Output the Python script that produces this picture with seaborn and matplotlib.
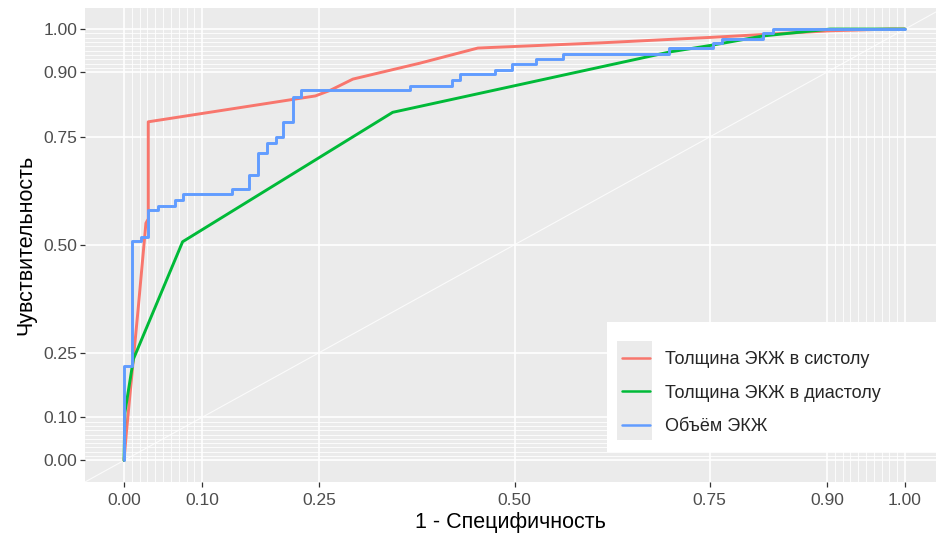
import numpy as np
import pandas as pd
import matplotlib
matplotlib.use("Agg")
import matplotlib.pyplot as plt
from matplotlib.patches import Rectangle
import seaborn as sns

# ---- data ----
labels = ["Толщина ЭКЖ в систолу", "Толщина ЭКЖ в диастолу", "Объём ЭКЖ"]

sys_fpr = [0, 0.003, 0.018, 0.028, 0.031, 0.031, 0.245, 0.264, 0.293, 0.379, 0.453, 0.61, 0.754, 0.904, 0.98, 1.0]
sys_tpr = [0, 0.065, 0.35, 0.55, 0.56, 0.785, 0.845, 0.858, 0.884, 0.921, 0.956, 0.968, 0.981, 0.996, 1.0, 1.0]

dia_fpr = [0, 0.001, 0.012, 0.075, 0.344, 0.61, 0.699, 0.754, 0.818, 0.904, 1.0]
dia_tpr = [0, 0.11, 0.235, 0.507, 0.807, 0.912, 0.947, 0.963, 0.984, 1.0, 1.0]

vol_fpr = [0, 0, 0.01, 0.01, 0.022, 0.022, 0.031, 0.031, 0.044, 0.044, 0.065, 0.065,
           0.075, 0.075, 0.138, 0.138, 0.16, 0.16, 0.172, 0.172, 0.183, 0.183, 0.195, 0.195,
           0.204, 0.204, 0.216, 0.216, 0.227, 0.227, 0.366, 0.366, 0.42, 0.42, 0.43, 0.43,
           0.475, 0.475, 0.497, 0.497, 0.528, 0.528, 0.562, 0.562, 0.698, 0.698, 0.754, 0.754,
           0.766, 0.766, 0.818, 0.818, 0.831, 0.831, 1.0]
vol_tpr = [0, 0.22, 0.22, 0.508, 0.508, 0.517, 0.517, 0.58, 0.58, 0.59, 0.59, 0.603,
           0.603, 0.617, 0.617, 0.629, 0.629, 0.661, 0.661, 0.712, 0.712, 0.735, 0.735, 0.749,
           0.749, 0.784, 0.784, 0.842, 0.842, 0.858, 0.858, 0.868, 0.868, 0.882, 0.882, 0.896,
           0.896, 0.905, 0.905, 0.919, 0.919, 0.93, 0.93, 0.942, 0.942, 0.956, 0.956, 0.967,
           0.967, 0.977, 0.977, 0.99, 0.99, 1.0, 1.0]

major_ticks = [0, 0.10, 0.25, 0.50, 0.75, 0.90, 1.00]
tick_labels = ["0.00", "0.10", "0.25", "0.50", "0.75", "0.90", "1.00"]
minor_ticks = [round(v, 2) for v in list(np.arange(0, 0.101, 0.01)) + list(np.arange(0.9, 1.001, 0.01))]

colors = ["#F8766D", "#00BA38", "#619CFF"]

df = pd.concat([
    pd.DataFrame({"fpr": sys_fpr, "tpr": sys_tpr, "curve": labels[0]}),
    pd.DataFrame({"fpr": dia_fpr, "tpr": dia_tpr, "curve": labels[1]}),
    pd.DataFrame({"fpr": vol_fpr, "tpr": vol_tpr, "curve": labels[2]}),
], ignore_index=True)

sns.set_theme(style="darkgrid")
plt.rcParams["font.family"] = ["Liberation Sans", "DejaVu Sans"]

fig = plt.figure(figsize=(9.36, 5.35), dpi=100)
W, H = 936, 535
ax = fig.add_axes([85 / W, (H - 482) / H, (936 - 85) / W, (482 - 7.5) / H])
ax.set_facecolor("#EBEBEB")

# grid
ax.set_xticks(major_ticks)
ax.set_yticks(major_ticks)
ax.set_xticks(minor_ticks, minor=True)
ax.set_yticks(minor_ticks, minor=True)
ax.set_xticklabels(tick_labels)
ax.set_yticklabels(tick_labels)
ax.grid(which="major", color="white", linewidth=1.2)
ax.grid(which="minor", color="white", linewidth=0.6)
ax.tick_params(which="minor", length=0)
ax.tick_params(which="major", length=3.6, width=0.9, color="#333333", labelcolor="#4D4D4D",
               labelsize=12.5)
ax.tick_params(axis="x", which="major", bottom=True, pad=4)
ax.tick_params(axis="y", which="major", left=True, pad=2)
for s in ax.spines.values():
    s.set_visible(False)

ax.set_xlim(-0.05, (936 - 124) / 781)
ax.set_ylim(-0.05, 1.05)

# diagonal reference
ax.axline((0, 0), (1, 1), color="white", linewidth=0.8, alpha=0.8, zorder=1)

sns.lineplot(data=df, x="fpr", y="tpr", hue="curve", hue_order=labels, palette=colors,
             estimator=None, sort=False, linewidth=2.1, ax=ax, legend=True, zorder=3)

ax.set_xlabel("1 - Специфичность", fontsize=15.5, color="black", labelpad=3)
ax.set_ylabel("Чувствительность", fontsize=15.5, color="black", labelpad=5)

# legend background boxes (ggplot style)
ax.add_patch(Rectangle((607 / W, (H - 452) / H), (936 - 607) / W, (452 - 322) / H,
                       transform=fig.transFigure, facecolor="white", edgecolor="none",
                       zorder=4, clip_on=False))
ax.add_patch(Rectangle((617 / W, (H - 440) / H), (652 - 617) / W, (440 - 341) / H,
                       transform=fig.transFigure, facecolor="#EBEBEB", edgecolor="none",
                       zorder=4.5, clip_on=False))

handles, lbls = ax.get_legend_handles_labels()
leg = ax.legend(handles, lbls, loc="upper left", bbox_to_anchor=(617 / W, (H - 346) / H),
                bbox_transform=fig.transFigure, frameon=False, fontsize=13,
                handlelength=1.55, handletextpad=0.8, labelspacing=0.9, borderpad=0.3,
                borderaxespad=0)
for lh in leg.get_lines():
    lh.set_linewidth(1.8)
leg.set_zorder(5)

fig.savefig("out.png", dpi=100)
